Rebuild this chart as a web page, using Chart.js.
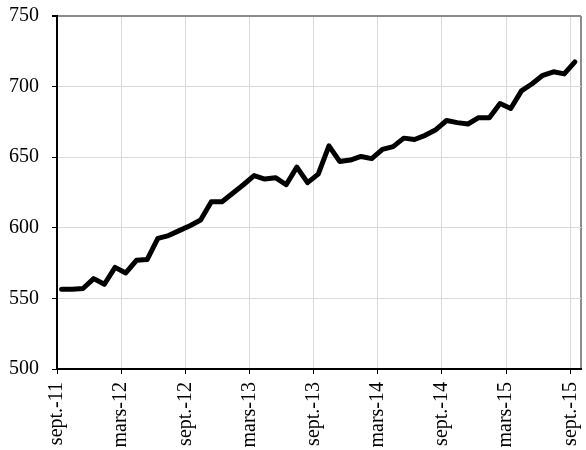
<!DOCTYPE html>
<html>
<head>
<meta charset="utf-8">
<script src="https://cdn.jsdelivr.net/npm/chart.js@4/dist/chart.umd.min.js"></script>
<style>
  html, body { margin: 0; padding: 0; background: #fff; }
</style>
</head>
<body>
<canvas id="chart" width="586" height="450"></canvas>
<script>
// monthly values, sept-11 .. sept-15
var values = [
    556.5, 556.5, 557, 564, 560, 572, 568, 577, 577.5, 592.5, 594.5, 598,
    601.5, 605.5, 618.5, 618.5, 624.5, 630.5, 637, 634.5, 635.5, 630.5, 643, 632,
    638, 658, 647, 648, 650.5, 649, 655.5, 657.5, 663.5, 662.5, 665.5, 669.5,
    676, 674.5, 673.5, 678, 678, 688, 684.5, 697, 702, 708, 710.5, 709,
    717.5
];

// one label every 6 months on the date axis
var tickMonths = [0, 6, 12, 18, 24, 30, 36, 42, 48];
var tickLabels = ["sept.-11", "mars-12", "sept.-12", "mars-13", "sept.-13", "mars-14", "sept.-14", "mars-15", "sept.-15"];

var yMin = 500, yMax = 750, yStep = 50;
var axisEnd = 49;        // the date axis runs to the start of the next month
var midMonth = 0.43;     // each reading falls around the middle of its month

var points = values.map(function(v, i) {
    return { x: i + midMonth, y: v };
});

var font = { family: "'Liberation Serif', 'Times New Roman', serif", size: 20 };

function noLabelPadding(scale) {
    scale.paddingLeft = 0;
    scale.paddingRight = 0;
    scale.paddingTop = 0;
    scale.paddingBottom = 0;
}

var config = {
    type: 'line',
    data: {
        datasets: [{
            data: points,
            borderColor: "#000",
            borderWidth: 5,
            borderJoinStyle: 'round',
            borderCapStyle: 'round',
            pointRadius: 0,
            tension: 0,
            fill: false
        }]
    },
    options: {
        responsive: false,
        animation: false,
        layout: {
            autoPadding: false,
            padding: { top: 16, right: 5, left: 0, bottom: 0 }
        },
        plugins: {
            legend: { display: false },
            tooltip: { enabled: false }
        },
        scales: {
            x: {
                type: 'linear',
                min: 0,
                max: axisEnd,
                afterBuildTicks: function(scale) {
                    scale.ticks = tickMonths.concat([axisEnd]).map(function(v) { return { value: v }; });
                },
                afterFit: function(scale) {
                    scale.height = 81;
                    noLabelPadding(scale);
                },
                grid: {
                    color: function(ctx) { return ctx.tick && ctx.tick.value === axisEnd ? "#8c8c8c" : "#d9d9d9"; },
                    lineWidth: function(ctx) { return ctx.tick && ctx.tick.value === axisEnd ? 2 : 1; },
                    tickLength: 5,
                    tickColor: function(ctx) { return ctx.tick && ctx.tick.value === axisEnd ? "rgba(0,0,0,0)" : "#000"; }
                },
                border: { color: "#000", width: 2 },
                ticks: {
                    autoSkip: false,
                    maxRotation: 90,
                    minRotation: 90,
                    padding: 8,
                    color: "#000",
                    font: font,
                    callback: function(value) {
                        var k = tickMonths.indexOf(value);
                        return k >= 0 ? tickLabels[k] : "";
                    }
                }
            },
            y: {
                min: yMin,
                max: yMax,
                afterFit: function(scale) {
                    scale.width = 57;
                    noLabelPadding(scale);
                },
                grid: {
                    color: function(ctx) { return ctx.tick && ctx.tick.value === yMax ? "#8c8c8c" : "#d9d9d9"; },
                    lineWidth: function(ctx) { return ctx.tick && ctx.tick.value === yMax ? 2 : 1; },
                    tickLength: 5,
                    tickColor: "#000"
                },
                border: { color: "#000", width: 2 },
                ticks: {
                    stepSize: yStep,
                    padding: 13,
                    color: "#000",
                    font: font
                }
            }
        }
    }
};

var ctx = document.getElementById("chart");
window.myChart = new Chart(ctx, config);
</script>
</body>
</html>
